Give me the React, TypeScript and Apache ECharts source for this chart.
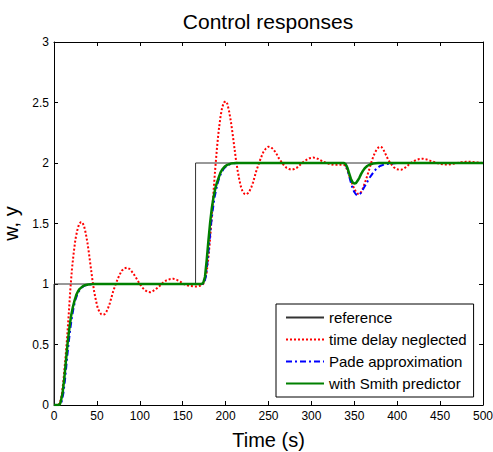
import React, { useEffect, useRef } from "react";
import * as echarts from "echarts";

const FONT = "'Liberation Sans', Arial, Helvetica, sans-serif";

const titleText = "Control responses";
const xAxisName = "Time (s)";
const yAxisName = "w, y";
const seriesNames = [
  "reference",
  "time delay neglected",
  "Pade approximation",
  "with Smith predictor",
];

// x axis: 0..500 step 50, y axis: 0..3 step 0.5
const xRange = [0, 500, 50];
const yRange = [0, 3, 0.5];

// reference signal w(t)
const reference: [number, number][] = [
  [0, 0], [0, 1], [165, 1], [165, 2], [500, 2],
];

// output with time delay neglected
const delayNeglected: [number, number][] = [
  [0, 0], [5, 0], [7, 0.02], [9, 0.08], [11, 0.2], [13, 0.36], [15, 0.53],
  [17, 0.73], [19, 0.95], [21, 1.13], [23, 1.26], [25, 1.37], [27, 1.44],
  [29, 1.49], [31, 1.51], [33, 1.51], [35, 1.48], [37, 1.42], [39, 1.34],
  [41, 1.24], [43, 1.13], [45, 1.02], [47, 0.93], [49, 0.86], [51, 0.8],
  [53, 0.77], [55, 0.75], [57, 0.745], [59, 0.75], [61, 0.77], [63, 0.8],
  [65, 0.84], [67, 0.89], [69, 0.94], [71, 0.98], [73, 1.02], [76, 1.07],
  [79, 1.11], [82, 1.13], [85, 1.135], [88, 1.125], [91, 1.1], [94, 1.07],
  [97, 1.035], [100, 1.0], [103, 0.97], [106, 0.95], [109, 0.935],
  [112, 0.932], [115, 0.94], [118, 0.955], [121, 0.97], [124, 0.99],
  [127, 1.01], [131, 1.03], [135, 1.04], [139, 1.043], [143, 1.035],
  [147, 1.02], [151, 1.0], [155, 0.99], [159, 0.983], [163, 0.98],
  [167, 0.98], [170, 0.985], [172, 0.99], [174, 1.0], [176, 1.04],
  [178, 1.1], [180, 1.22], [182, 1.38], [184, 1.57], [186, 1.77],
  [188, 1.96], [190, 2.13], [192, 2.27], [194, 2.38], [196, 2.46],
  [198, 2.5], [200, 2.51], [202, 2.49], [204, 2.43], [206, 2.35],
  [208, 2.25], [210, 2.14], [212, 2.03], [214, 1.94], [216, 1.86],
  [218, 1.8], [220, 1.76], [222, 1.745], [224, 1.74], [226, 1.75],
  [228, 1.77], [230, 1.8], [232, 1.84], [234, 1.89], [236, 1.94],
  [238, 1.98], [241, 2.04], [244, 2.09], [247, 2.12], [250, 2.135],
  [253, 2.13], [256, 2.11], [259, 2.08], [262, 2.04], [265, 2.01],
  [268, 1.98], [271, 1.96], [274, 1.95], [277, 1.945], [280, 1.95],
  [283, 1.96], [286, 1.98], [290, 2.005], [294, 2.025], [298, 2.04],
  [302, 2.045], [306, 2.04], [310, 2.025], [314, 2.01], [318, 2.0],
  [322, 1.99], [326, 1.985], [330, 1.985], [334, 1.987], [338, 1.985],
  [340, 1.97], [342, 1.94], [344, 1.9], [346, 1.86], [348, 1.82],
  [350, 1.785], [352, 1.76], [354, 1.745], [356, 1.745], [358, 1.76],
  [360, 1.79], [362, 1.83], [364, 1.87], [366, 1.915], [368, 1.96],
  [370, 2.01], [372, 2.05], [374, 2.085], [376, 2.11], [378, 2.128],
  [380, 2.135], [382, 2.13], [384, 2.11], [386, 2.08], [388, 2.05],
  [390, 2.02], [393, 1.99], [396, 1.965], [399, 1.95], [402, 1.945],
  [405, 1.945], [408, 1.955], [411, 1.97], [414, 1.99], [418, 2.01],
  [422, 2.025], [426, 2.033], [430, 2.035], [434, 2.03], [438, 2.02],
  [442, 2.01], [446, 2.0], [450, 1.993], [455, 1.988], [460, 1.988],
  [465, 1.993], [470, 2.0], [475, 2.007], [480, 2.01], [485, 2.01],
  [490, 2.007], [495, 2.003], [500, 2.0],
];

// output with Pade approximation
const padeApprox: [number, number][] = [
  [0, 0], [7, 0], [9, 0.03], [11, 0.1], [13, 0.22], [15, 0.37], [17, 0.51],
  [19, 0.63], [21, 0.73], [23, 0.81], [25, 0.87], [27, 0.91], [29, 0.94],
  [32, 0.97], [35, 0.985], [40, 0.995], [46, 1.0], [173, 1.0], [175, 1.01],
  [177, 1.06], [179, 1.19], [181, 1.34], [183, 1.49], [185, 1.61],
  [187, 1.71], [189, 1.78], [191, 1.84], [193, 1.885], [195, 1.92],
  [198, 1.955], [201, 1.975], [205, 1.99], [210, 1.998], [216, 2.0],
  [338, 2.0], [340, 1.99], [342, 1.95], [344, 1.89], [346, 1.84],
  [348, 1.79], [350, 1.76], [352, 1.74], [354, 1.735], [356, 1.74],
  [358, 1.755], [360, 1.78], [362, 1.805], [364, 1.83], [366, 1.855],
  [368, 1.88], [370, 1.9], [373, 1.93], [376, 1.955], [380, 1.975],
  [385, 1.988], [392, 1.996], [400, 2.0], [500, 2.0],
];

// output with Smith predictor
const smithPredictor: [number, number][] = [
  [0, 0], [6, 0], [7, 0.01], [8, 0.03], [10, 0.1], [12, 0.22], [14, 0.37],
  [16, 0.52], [18, 0.64], [20, 0.74], [22, 0.81], [24, 0.865], [26, 0.91],
  [28, 0.94], [30, 0.96], [33, 0.978], [36, 0.99], [40, 0.996], [45, 0.999],
  [50, 1.0], [172, 1.0], [174, 1.01], [176, 1.06], [178, 1.2], [180, 1.36],
  [182, 1.51], [184, 1.63], [186, 1.72], [188, 1.79], [190, 1.84],
  [192, 1.88], [194, 1.92], [196, 1.945], [199, 1.97], [202, 1.985],
  [206, 1.995], [212, 2.0], [338, 2.0], [340, 1.99], [342, 1.96],
  [344, 1.915], [346, 1.87], [348, 1.84], [350, 1.83], [352, 1.835],
  [354, 1.855], [356, 1.88], [358, 1.91], [360, 1.935], [362, 1.955],
  [365, 1.975], [368, 1.988], [372, 1.996], [378, 2.0], [500, 2.0],
];

const seriesData = [reference, delayNeglected, padeApprox, smithPredictor];
const seriesColors = ["#333333", "#ff0000", "#0000ff", "#008000"];
const seriesWidths = [1, 2, 2, 2.5];
const seriesDash: any[] = ["solid", [2, 2], [6, 3, 2, 3], "solid"];

export default function App() {
  const ref = useRef<HTMLDivElement>(null);

  useEffect(() => {
    if (!ref.current) return;
    const chart = echarts.init(ref.current, undefined, { renderer: "svg" });

    const axisCommon = {
      type: "value" as const,
      axisLine: { show: true, onZero: false, lineStyle: { color: "#000", width: 1 } },
      axisTick: { show: true, inside: true, length: 4, lineStyle: { color: "#000" } },
      splitLine: { show: false },
    };
    const labelStyle = { color: "#000", fontSize: 12, fontFamily: FONT };

    chart.setOption({
      animation: false,
      backgroundColor: "#ffffff",
      grid: {
        left: 54,
        right: 10,
        top: 42,
        bottom: 47,
        containLabel: false,
        outerBoundsMode: "none",
      },
      graphic: [
        {
          type: "text",
          x: 268,
          y: 21,
          style: {
            text: titleText,
            fontSize: 21,
            fontFamily: FONT,
            fill: "#000",
            textAlign: "center",
            textVerticalAlign: "middle",
          },
        },
      ],
      legend: {
        orient: "vertical",
        left: 276,
        top: 304,
        itemWidth: 38,
        itemHeight: 14,
        itemGap: 7,
        padding: [6, 7, 6, 9],
        borderColor: "#000",
        borderWidth: 1,
        backgroundColor: "#fff",
        itemStyle: {
          color: "rgba(0,0,0,0)",
          borderColor: "rgba(0,0,0,0)",
          borderWidth: 0,
          opacity: 0,
        },
        textStyle: { fontSize: 15, color: "#000", fontFamily: FONT },
        data: seriesNames,
      },
      xAxis: [
        {
          ...axisCommon,
          position: "bottom",
          min: xRange[0],
          max: xRange[1],
          interval: xRange[2],
          axisLabel: { ...labelStyle, margin: 5 },
          name: xAxisName,
          nameLocation: "middle",
          nameGap: 25,
          nameTextStyle: { fontSize: 20, color: "#000", fontFamily: FONT },
        },
        {
          ...axisCommon,
          position: "top",
          min: xRange[0],
          max: xRange[1],
          interval: xRange[2],
          axisLabel: { show: false },
        },
      ],
      yAxis: [
        {
          ...axisCommon,
          position: "left",
          min: yRange[0],
          max: yRange[1],
          interval: yRange[2],
          axisLabel: { ...labelStyle, margin: 5 },
          name: yAxisName,
          nameLocation: "middle",
          nameGap: 30,
          nameTextStyle: { fontSize: 20, color: "#000", fontFamily: FONT },
        },
        {
          ...axisCommon,
          position: "right",
          min: yRange[0],
          max: yRange[1],
          interval: yRange[2],
          axisLabel: { show: false },
        },
      ],
      series: seriesNames.map((name, i) => ({
        name,
        type: "line",
        xAxisIndex: 0,
        yAxisIndex: 0,
        data: seriesData[i],
        symbol: "none",
        showSymbol: false,
        smooth: false,
        color: seriesColors[i],
        lineStyle: {
          color: seriesColors[i],
          width: seriesWidths[i],
          type: seriesDash[i],
        },
        z: 2 + i,
      })),
    });

    return () => chart.dispose();
  }, []);

  return (
    <div
      ref={ref}
      style={{ position: "fixed", left: 0, top: 0, width: 493, height: 452, background: "#fff" }}
    />
  );
}
